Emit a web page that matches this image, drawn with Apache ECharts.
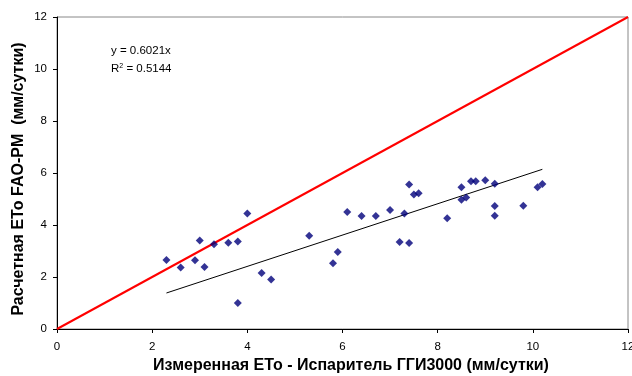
<!DOCTYPE html>
<html>
<head>
<meta charset="utf-8">
<script src="https://cdn.jsdelivr.net/npm/echarts@6/dist/echarts.min.js"></script>
<style>
  html, body { margin: 0; padding: 0; background: #fff; }
  #chart { width: 632px; height: 376px; }
</style>
</head>
<body>
<div id="chart"></div>
<script>
// Measured (evaporimeter) vs calculated (FAO-PM) daily ETo, mm/day
const measuredEto = [2.3, 2.6, 2.9, 3.0, 3.1, 3.3, 3.6, 3.8, 4.0, 4.3, 4.5, 3.8, 5.3,
  5.8, 5.9, 6.1, 6.4, 6.7, 7.0, 7.2, 7.3, 7.4, 7.4, 7.5, 7.6, 8.2, 8.5, 8.5, 8.6,
  8.7, 8.8, 9.0, 9.2, 9.2, 9.2, 9.8, 10.1, 10.2];
const calculatedEto = [2.65, 2.37, 2.64, 3.40, 2.38, 3.26, 3.32, 3.37, 4.44, 2.15, 1.90, 1.00, 3.59,
  2.53, 2.96, 4.50, 4.35, 4.35, 4.58, 3.35, 4.44, 3.31, 5.56, 5.17, 5.22, 4.26, 5.45, 4.97, 5.06,
  5.68, 5.68, 5.72, 5.59, 4.73, 4.36, 4.74, 5.45, 5.58];

// Linear trend through the origin
const trendSlope = 0.6021;
const trendR2 = 0.5144;
const trendRange = [2.3, 10.2];

// 1:1 reference line
const oneToOne = [[0, 0], [12, 12]];

const axisTicks = { min: 0, max: 12, interval: 2 };
const xTitle = 'Измеренная ЕТо - Испаритель ГГИ3000 (мм/сутки)';
const yTitle = 'Расчетная ЕТо FAO-PM  (мм/сутки)';

const font = 'Arial, "Liberation Sans", sans-serif';

const points = measuredEto.map((x, i) => [x, calculatedEto[i]]);
const trendPoints = trendRange.map(x => [x, trendSlope * x]);

const axisCommon = {
  type: 'value',
  min: axisTicks.min,
  max: axisTicks.max,
  interval: axisTicks.interval,
  axisLine: { show: true, onZero: false, lineStyle: { color: '#000', width: 1 } },
  axisTick: { show: true, inside: false, length: 4, lineStyle: { color: '#000' } },
  splitLine: { show: false },
  axisLabel: { color: '#000', fontFamily: font, fontSize: 11.5 }
};

const chart = echarts.init(document.getElementById('chart'), null, { renderer: 'canvas' });
chart.setOption({
  animation: false,
  backgroundColor: '#fff',
  grid: {
    left: 57, right: 4, top: 17, bottom: 47,
    containLabel: false,
    outerBoundsMode: 'none',
    show: true, borderColor: '#888', borderWidth: 1, backgroundColor: '#fff'
  },
  xAxis: Object.assign({}, axisCommon, {
    axisLabel: Object.assign({}, axisCommon.axisLabel, { margin: 12 })
  }),
  yAxis: Object.assign({}, axisCommon, {
    axisLabel: Object.assign({}, axisCommon.axisLabel, { margin: 10 })
  }),
  series: [
    {
      type: 'line',
      data: oneToOne,
      symbol: 'none',
      lineStyle: { color: '#ff0000', width: 2 },
      z: 2
    },
    {
      type: 'line',
      data: trendPoints,
      symbol: 'none',
      lineStyle: { color: '#000', width: 1 },
      z: 3
    },
    {
      type: 'scatter',
      data: points,
      symbol: 'diamond',
      symbolSize: 8,
      itemStyle: { color: '#00007a' },
      z: 4
    }
  ],
  graphic: [
    {
      type: 'text', left: 111, top: 45,
      style: { text: 'y = ' + trendSlope + 'x', font: '11.5px ' + font, fill: '#000' }
    },
    {
      type: 'text', left: 111, top: 63,
      style: {
        text: '{r|R}{s|2}{r| = ' + trendR2 + '}',
        font: '11.5px ' + font, fill: '#000',
        rich: {
          r: { fontSize: 11.5, fontFamily: font, fill: '#000' },
          s: { fontSize: 7, fontFamily: font, fill: '#000', verticalAlign: 'top', padding: [0, 0, 4, 0] }
        }
      }
    },
    {
      type: 'text', x: 351, y: 366,
      style: {
        text: xTitle, font: 'bold 16px ' + font, fill: '#000',
        align: 'center', verticalAlign: 'middle'
      }
    },
    {
      type: 'text', x: 19, y: 179, rotation: Math.PI / 2,
      style: {
        text: yTitle, font: 'bold 16px ' + font, fill: '#000',
        align: 'center', verticalAlign: 'middle'
      }
    }
  ]
});
</script>
</body>
</html>
